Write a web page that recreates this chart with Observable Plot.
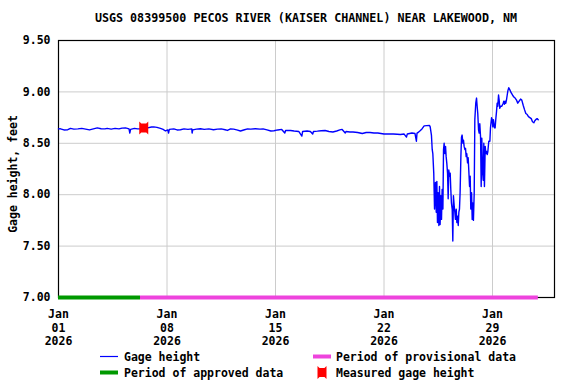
<!DOCTYPE html>
<html><head><meta charset="utf-8">
<script src="https://cdn.jsdelivr.net/npm/d3@7"></script>
<script src="https://cdn.jsdelivr.net/npm/@observablehq/plot@0.6"></script>
<style>
body{margin:0;background:#fff}
#wrap{position:relative;width:576px;height:384px;font-family:"DejaVu Sans Mono",monospace;font-weight:bold;color:#000;overflow:hidden}
.t{position:absolute;white-space:pre;line-height:1;font-size:11.5px}
#wrap svg{position:absolute;left:0;top:0}
</style></head><body><div id="wrap"></div>
<script>
const titleText = "USGS 08399500 PECOS RIVER (KAISER CHANNEL) NEAR LAKEWOOD, NM";
const yLabel = "Gage height, feet";
const startDate = "2026-01-01";
const endDate = "2026-02-02";
const xTickDates = ["2026-01-01","2026-01-08","2026-01-15","2026-01-22","2026-01-29"];
const yTicks = [7.0, 7.5, 8.0, 8.5, 9.0, 9.5];

// days since Jan 01 2026 00:00 UTC
const gageDays = [
0.00,0.13,0.35,0.60,0.77,0.99,1.25,1.50,1.75,2.00,2.25,2.50,2.75,3.00,3.14,3.40,3.65,3.90,4.10,4.32,4.55,4.60,4.65,4.90,5.10,5.30,5.50,5.75,6.00,6.15,6.35,6.58,6.75,6.90,7.05,7.10,7.15,7.44,7.65,7.87,8.10,8.35,8.60,8.62,8.66,8.90,9.16,9.40,9.70,10.00,10.25,10.50,10.75,10.90,11.10,11.30,11.50,11.74,12.00,12.20,12.40,12.70,13.00,13.20,13.45,13.70,13.90,14.15,14.40,14.60,14.65,14.97,15.20,15.50,15.70,15.75,16.04,16.25,16.40,16.45,16.70,16.95,17.20,17.45,17.70,17.95,18.15,18.30,18.50,18.55,18.80,19.00,19.30,19.60,19.85,20.10,20.35,20.60,20.80,21.00,21.30,21.60,21.85,22.06,22.30,22.45,22.50,22.80,23.00,23.09,23.13,23.20,23.31,23.45,23.59,23.75,23.94,23.98,
24.06,24.11,24.15,24.21,24.26,24.32,24.37,24.41,24.45,24.49,24.54,24.58,24.62,24.67,24.71,24.75,24.80,24.84,24.88,24.92,24.97,25.01,25.05,25.10,25.14,25.18,25.23,25.27,25.31,25.35,25.40,25.44,25.48,25.53,25.57,25.61,25.66,25.70,25.74,25.79,25.83,25.87,25.91,25.96,26.00,26.04,26.09,26.13,26.17,26.22,26.26,26.30,26.34,26.39,26.43,26.47,26.52,26.56,26.60,26.65,26.69,26.73,26.77,26.82,
26.86,26.92,26.97,27.01,27.05,27.10,27.14,27.18,27.23,27.27,27.31,27.35,27.40,27.44,27.48,27.53,27.57,27.61,27.66,27.70,27.76,27.83,27.87,27.94,27.98,28.02,28.06,28.13,28.17,28.21,28.26,28.30,28.34,28.39,28.43,28.47,28.52,28.60,28.69,28.73,28.77,28.82,28.86,28.90,28.95,28.99,29.05,29.12,29.21,29.29,29.38,29.46,29.55,29.63,29.72,29.81,29.89,29.98,30.06,30.15,30.24,30.32,30.41,30.50,30.58,30.67,30.73,30.79,30.88,30.95];
const gageValues = [
8.640,8.641,8.630,8.632,8.645,8.638,8.640,8.645,8.638,8.630,8.640,8.650,8.642,8.640,8.645,8.638,8.645,8.640,8.648,8.650,8.640,8.600,8.635,8.645,8.640,8.642,8.645,8.650,8.658,8.660,8.655,8.645,8.635,8.620,8.630,8.600,8.635,8.640,8.630,8.632,8.640,8.635,8.640,8.600,8.630,8.638,8.642,8.635,8.640,8.632,8.638,8.640,8.632,8.625,8.640,8.638,8.630,8.620,8.632,8.640,8.638,8.642,8.638,8.640,8.630,8.620,8.622,8.630,8.635,8.600,8.625,8.625,8.620,8.615,8.570,8.615,8.620,8.615,8.590,8.615,8.618,8.622,8.625,8.615,8.610,8.620,8.630,8.635,8.600,8.615,8.610,8.610,8.605,8.595,8.605,8.605,8.600,8.600,8.595,8.590,8.592,8.590,8.588,8.585,8.590,8.560,8.590,8.600,8.595,8.520,8.600,8.605,8.620,8.640,8.670,8.672,8.673,8.660,
8.58,8.44,8.40,8.21,7.86,8.12,7.83,8.13,7.73,8.02,7.70,8.08,7.71,7.99,7.76,8.05,7.86,8.44,8.50,8.40,8.47,8.37,8.31,8.21,7.96,8.24,8.18,8.21,8.05,7.92,7.86,7.55,7.99,7.89,7.83,7.76,7.86,7.73,7.79,7.70,7.83,7.86,8.02,8.37,8.56,8.58,8.50,8.53,8.47,8.44,8.45,8.37,8.40,8.31,8.36,8.24,8.08,8.18,7.86,8.02,7.76,7.92,7.75,8.02,
8.73,8.89,8.94,8.86,8.79,8.63,8.60,8.69,8.56,8.08,8.55,8.24,8.14,8.50,8.08,8.47,8.40,8.42,8.39,8.42,8.52,8.52,8.65,8.75,8.73,8.66,8.73,8.65,8.65,8.73,8.81,8.89,8.86,8.97,8.92,8.84,8.86,8.86,8.89,8.91,8.88,8.91,8.89,8.92,8.97,9.01,9.04,9.02,8.99,8.97,8.95,8.94,8.92,8.89,8.91,8.93,8.92,8.87,8.83,8.79,8.78,8.76,8.75,8.74,8.71,8.70,8.72,8.73,8.74,8.73];

const approvedPeriod = ["2026-01-01T00:00", "2026-01-06T07:00"];
const provisionalPeriod = ["2026-01-06T07:00", "2026-01-31T23:00"];
const measuredTimes = ["2026-01-06T12:00"];
const measuredValues = [8.65];

const legendItems = ["Gage height", "Period of provisional data", "Period of approved data", "Measured gage height"];
const colors = {gage: "#0000ff", approved: "#009900", provisional: "#ee44dd", measured: "#ff0000", grid: "#cccccc"};

const t0 = Date.UTC(2026, 0, 1);
const utc = s => new Date(s + "Z");
const gage = gageDays.map((d, i) => ({date: new Date(t0 + d * 864e5), value: gageValues[i]}));
const measured = measuredTimes.map((t, i) => ({date: utc(t), value: measuredValues[i]}));

const markerSymbol = {
  draw(ctx) {
    ctx.moveTo(-4.5, -6.5); ctx.lineTo(-2.5, -4.5); ctx.lineTo(2.5, -4.5); ctx.lineTo(4.5, -6.5);
    ctx.lineTo(4.5, 6.5); ctx.lineTo(2.5, 4.5); ctx.lineTo(-2.5, 4.5); ctx.lineTo(-4.5, 6.5);
    ctx.closePath();
  }
};

const chart = Plot.plot({
  width: 576, height: 384,
  marginTop: 40, marginBottom: 87, marginLeft: 58, marginRight: 22,
  style: {fontFamily: "DejaVu Sans Mono", fontWeight: "bold", fontSize: "11.5px", background: "#fff", color: "#000"},
  x: {type: "utc", domain: [utc(startDate + "T00:00"), utc(endDate + "T00:00")]},
  y: {domain: [7, 9.5]},
  marks: [
    Plot.gridX(xTickDates.map(d => utc(d + "T00:00")), {stroke: colors.grid, strokeOpacity: 1}),
    Plot.gridY(yTicks, {stroke: colors.grid, strokeOpacity: 1}),
    Plot.frame({stroke: "#000", strokeWidth: 1.2}),
    Plot.axisX(xTickDates.map(d => utc(d + "T00:00")), {tickSize: 0, tickPadding: 11, lineHeight: 1.17, tickFormat: d3.utcFormat("%b\n%d\n%Y"), label: null}),
    Plot.axisY(yTicks, {tickSize: 0, tickPadding: 8, tickFormat: d3.format(".2f"), label: null}),
    Plot.line(gage, {x: "date", y: "value", stroke: colors.gage, strokeWidth: 1.4}),
    Plot.ruleY([7], {x1: utc(approvedPeriod[0]), x2: utc(approvedPeriod[1]), stroke: colors.approved, strokeWidth: 4}),
    Plot.ruleY([7], {x1: utc(provisionalPeriod[0]), x2: utc(provisionalPeriod[1]), stroke: colors.provisional, strokeWidth: 4}),
    Plot.dot(measured, {x: "date", y: "value", symbol: markerSymbol, fill: colors.measured, stroke: "none", r: 5})
  ]
});

const wrap = document.getElementById("wrap");
wrap.appendChild(chart);

function addText(txt, left, top, extra) {
  const el = document.createElement("div");
  el.className = "t";
  el.textContent = txt;
  el.style.left = left + "px";
  el.style.top = top + "px";
  if (extra) Object.assign(el.style, extra);
  wrap.appendChild(el);
  return el;
}
// title
addText(titleText, 0, 13, {width: "612px", textAlign: "center", fontSize: "11.7px"});
// y label
addText(yLabel, 14, 174, {transform: "translate(-50%,-50%) rotate(-90deg)", transformOrigin: "center"});

// legend
const ns = "http://www.w3.org/2000/svg";
const lg = document.createElementNS(ns, "svg");
lg.setAttribute("width", 576); lg.setAttribute("height", 384);
lg.style.pointerEvents = "none";
function ln(x1, x2, y, color, w) {
  const l = document.createElementNS(ns, "line");
  l.setAttribute("x1", x1); l.setAttribute("x2", x2); l.setAttribute("y1", y); l.setAttribute("y2", y);
  l.setAttribute("stroke", color); l.setAttribute("stroke-width", w);
  lg.appendChild(l);
}
ln(100, 118, 356.5, colors.gage, 1.2);
ln(313, 331, 356.5, colors.provisional, 4);
ln(100, 118, 372.5, colors.approved, 4);
const mk = document.createElementNS(ns, "path");
const p = d3.path(); markerSymbol.draw(p);
mk.setAttribute("d", p.toString());
mk.setAttribute("transform", "translate(322,372.5)");
mk.setAttribute("fill", colors.measured);
lg.appendChild(mk);
wrap.appendChild(lg);
addText(legendItems[0], 124, 351.5);
addText(legendItems[1], 336, 351.5);
addText(legendItems[2], 124, 367.5);
addText(legendItems[3], 336, 367.5);
</script></body></html>
